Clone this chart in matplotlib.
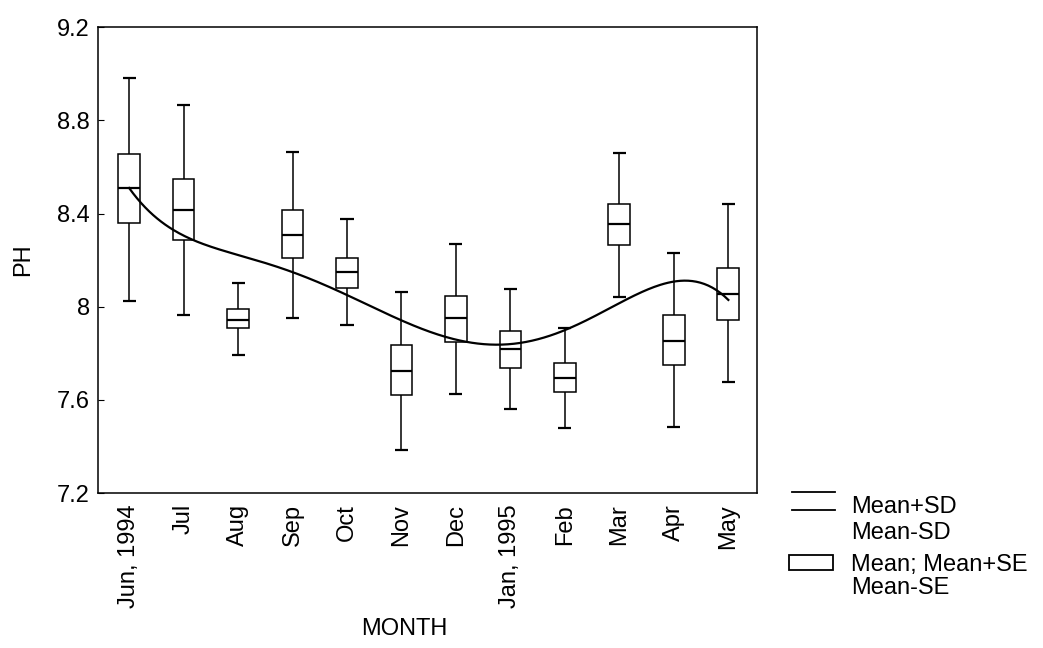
import numpy as np
import matplotlib.pyplot as plt
from matplotlib.lines import Line2D
from matplotlib.patches import Rectangle

plt.rcParams['font.family'] = ['Liberation Sans', 'DejaVu Sans']

# monthly pH summary
months = ['Jun, 1994', 'Jul', 'Aug', 'Sep', 'Oct', 'Nov', 'Dec',
          'Jan, 1995', 'Feb', 'Mar', 'Apr', 'May']
mean_plus_sd = [8.98, 8.865, 8.10, 8.665, 8.375, 8.065, 8.27, 8.075, 7.91, 8.66, 8.23, 8.44]
mean_plus_se = [8.655, 8.55, 7.99, 8.415, 8.21, 7.835, 8.045, 7.895, 7.76, 8.44, 7.965, 8.165]
mean = [8.51, 8.415, 7.945, 8.31, 8.15, 7.725, 7.95, 7.82, 7.695, 8.355, 7.855, 8.055]
mean_minus_se = [8.36, 8.285, 7.91, 8.21, 8.08, 7.62, 7.85, 7.735, 7.635, 8.265, 7.75, 7.945]
mean_minus_sd = [8.025, 7.965, 7.795, 7.95, 7.92, 7.385, 7.625, 7.56, 7.48, 8.04, 7.485, 7.675]

# smooth trend line, value read at each month
trend = [8.51, 8.305, 8.225, 8.145, 8.05, 7.945, 7.86, 7.835, 7.90, 8.02, 8.105, 8.03]

x = np.arange(len(months))

fig = plt.figure(figsize=(10.43, 6.48), dpi=100)
ax = fig.add_axes([0.094, 0.239, 0.632, 0.719])

lw = 1.1
# whiskers
ax.vlines(x, mean_plus_se, mean_plus_sd, color='black', lw=lw)
ax.vlines(x, mean_minus_sd, mean_minus_se, color='black', lw=lw)
ax.hlines(mean_plus_sd, x - 0.12, x + 0.12, color='black', lw=1.6)
ax.hlines(mean_minus_sd, x - 0.12, x + 0.12, color='black', lw=1.6)
# boxes
ax.bar(x, np.array(mean_plus_se) - np.array(mean_minus_se), bottom=mean_minus_se,
       width=0.4, facecolor='white', edgecolor='black', linewidth=lw, zorder=2)
ax.hlines(mean, x - 0.2, x + 0.2, color='black', lw=1.6, zorder=3)

# trend curve
coef = np.polyfit(x, trend, 6)
xx = np.linspace(0, 11, 300)
ax.plot(xx, np.polyval(coef, xx), color='black', lw=1.6, zorder=4)

ax.set_xlim(-0.57, 11.53)
ax.set_ylim(7.2, 9.2)
ax.set_yticks([7.2, 7.6, 8.0, 8.4, 8.8, 9.2])
ax.set_yticklabels(['7.2', '7.6', '8', '8.4', '8.8', '9.2'])
ax.set_xticks(x)
ax.set_xticklabels(months, rotation=90)
ax.tick_params(axis='y', direction='in', length=4, labelsize=17, pad=6)
ax.tick_params(axis='x', length=0, labelsize=17, pad=8)
for s in ax.spines.values():
    s.set_linewidth(1.1)

ax.set_ylabel('PH', fontsize=17, labelpad=16)
fig.text(404 / 1043, 1 - 629 / 648, 'MONTH', fontsize=17, ha='center', va='center')

# legend drawn by hand on the right
W, H = 1043, 648
def fx(px):
    return px / W
def fy(py):
    return 1 - py / H

fig.add_artist(Line2D([fx(792), fx(835)], [fy(492), fy(492)], color='black', lw=1.3))
fig.add_artist(Line2D([fx(792), fx(835)], [fy(510), fy(510)], color='black', lw=1.3))
fig.add_artist(Rectangle((fx(789), fy(570)), fx(833) - fx(789), fy(555) - fy(570),
                         facecolor='white', edgecolor='black', lw=1.3))
for txt, py in [('Mean+SD', 507), ('Mean-SD', 533), ('Mean; Mean+SE', 565), ('Mean-SE', 588)]:
    fig.text(fx(851), fy(py), txt, fontsize=17, va='center', ha='left')

plt.savefig('out.png', dpi=100)
